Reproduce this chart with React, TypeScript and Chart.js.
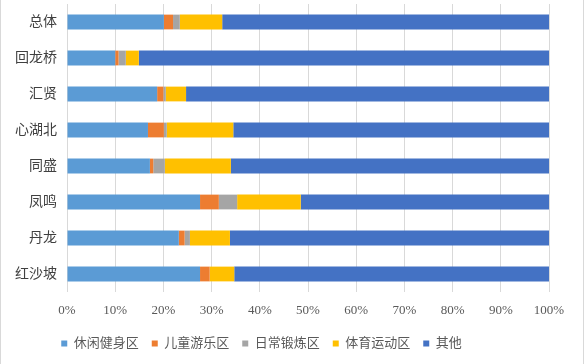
import { useEffect, useRef } from "react";
import { Chart, registerables } from "chart.js";

Chart.register(...registerables);

const categories = ["总体", "回龙桥", "汇贤", "心湖北", "同盛", "凤鸣", "丹龙", "红沙坡"];
const seriesNames = ["休闲健身区", "儿童游乐区", "日常锻炼区", "体育运动区", "其他"];
const leisure = [20.1, 10.0, 18.7, 16.8, 17.2, 27.6, 23.2, 27.6];
const children = [1.9, 0.7, 1.3, 3.3, 0.7, 3.9, 1.2, 2.0];
const daily = [1.4, 1.5, 0.5, 0.6, 2.4, 3.8, 1.1, 0.0];
const sports = [8.8, 2.7, 4.2, 13.8, 13.7, 13.2, 8.3, 5.1];
const other = [67.8, 85.1, 75.3, 65.5, 66.0, 51.5, 66.2, 65.3];
const colors = ["#5B9BD5", "#ED7D31", "#A5A5A5", "#FFC000", "#4472C4"];
const xTicks = [0, 10, 20, 30, 40, 50, 60, 70, 80, 90, 100];

const FONT = '"Liberation Serif", "Noto Sans CJK SC", serif';

export default function App() {
  const ref = useRef<HTMLCanvasElement | null>(null);

  useEffect(() => {
    if (!ref.current) return;
    const values = [leisure, children, daily, sports, other];
    const legendShift = {
      id: "legendShift",
      beforeDraw(chart: any) {
        const l = chart.legend;
        if (l) {
          l.left = 0;
          l.right = 523;
        }
      },
    };
    const chart = new Chart(ref.current, {
      type: "bar",
      data: {
        labels: categories,
        datasets: seriesNames.map((name, i) => ({
          label: name,
          data: values[i],
          backgroundColor: colors[i],
          borderWidth: 0,
          barPercentage: 0.41,
          categoryPercentage: 1,
        })),
      },
      options: {
        indexAxis: "y",
        responsive: false,
        animation: false,
        layout: { padding: { top: 4, right: 36, bottom: 4, left: 0 } },
        scales: {
          x: {
            stacked: true,
            min: 0,
            max: 100,
            afterBuildTicks: (scale: any) => {
              scale.ticks = xTicks.map((v) => ({ value: v }));
            },
            afterFit: (scale: any) => {
              scale.height = 32;
            },
            border: { display: false },
            grid: { color: "#d9d9d9", lineWidth: 1, drawTicks: false },
            ticks: {
              padding: 11,
              color: "#595959",
              font: { family: FONT, size: 13 },
              callback: (v: any) => v + "%",
            },
          },
          y: {
            stacked: true,
            afterFit: (scale: any) => {
              scale.width = 67;
              scale.paddingTop = 0;
              scale.paddingBottom = 0;
            },
            border: { display: false },
            grid: { display: false, drawTicks: false },
            ticks: {
              padding: 10,
              color: "#404040",
              font: { family: FONT, size: 14 },
            },
          },
        },
        plugins: {
          tooltip: { enabled: false },
          legend: {
            position: "bottom",
            labels: {
              boxWidth: 6,
              boxHeight: 6,
              padding: 13,
              color: "#595959",
              font: { family: FONT, size: 13 },
            },
          },
        },
      },
      plugins: [legendShift],
    } as any);
    return () => chart.destroy();
  }, []);

  return (
    <div style={{ position: "fixed", left: 0, top: 0, width: 585, height: 364, background: "#fff" }}>
      <canvas ref={ref} width={585} height={364} style={{ display: "block" }} />
      <div style={{ position: "absolute", left: 0, top: 0, width: 1, height: 364, background: "#d9d9d9" }} />
      <div style={{ position: "absolute", left: 583, top: 0, width: 1, height: 364, background: "#d9d9d9" }} />
    </div>
  );
}
